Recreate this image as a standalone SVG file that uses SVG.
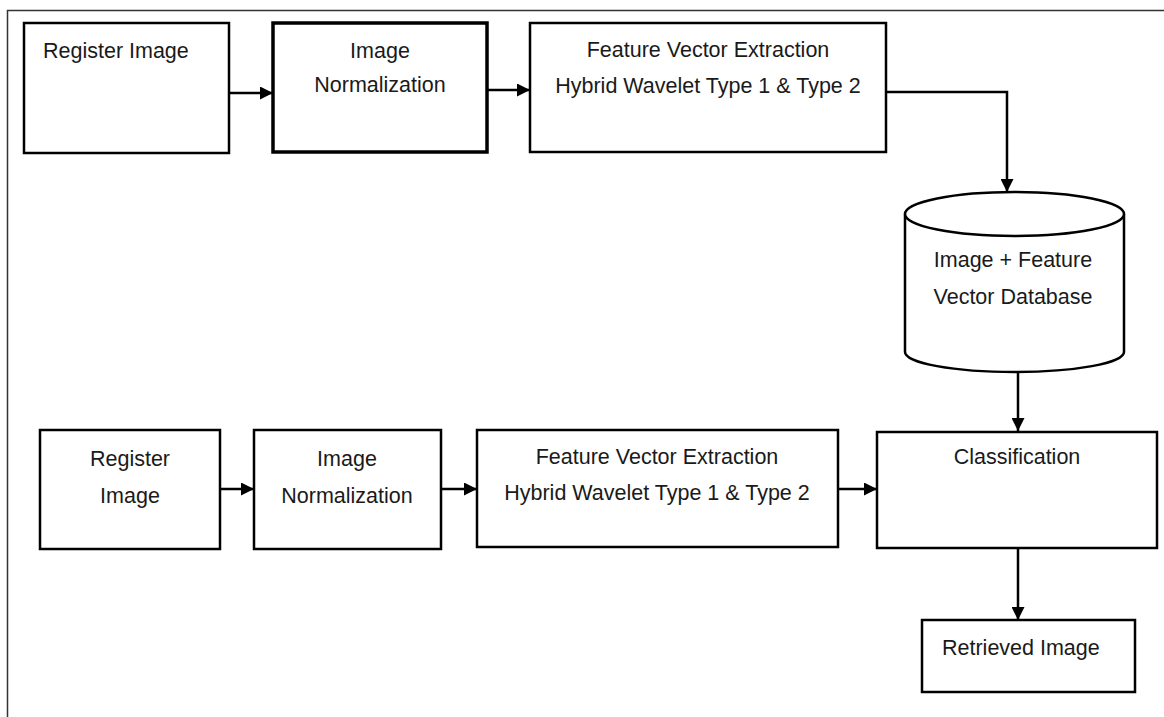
<svg xmlns="http://www.w3.org/2000/svg" width="1164" height="717" viewBox="0 0 1164 717">
<style>
.box{fill:#fff;stroke:#000;stroke-width:2.5}
.thick{stroke-width:3.5}
.t{font-family:"Liberation Sans",Arial,sans-serif;font-size:21.5px;fill:#1a1a1a}
.c{text-anchor:middle}
.edge{fill:none;stroke:#000;stroke-width:2.5}
</style>
<defs>
<marker id="ah" viewBox="0 0 13 13" refX="13" refY="6.5" markerWidth="13" markerHeight="13" markerUnits="userSpaceOnUse" orient="auto">
<path d="M0,0 L13,6.5 L0,13 Z" fill="#000"/>
</marker>
</defs>
<rect width="1164" height="717" fill="#fff"/>
<rect x="7.5" y="10.5" width="1300" height="800" fill="none" stroke="#333" stroke-width="1.5"/>

<g id="reg1">
<rect class="box" x="24" y="23" width="205" height="130"/>
<text class="t" x="43" y="58">Register Image</text>
</g>
<g id="norm1">
<rect class="box thick" x="273" y="23" width="214" height="129"/>
<text class="t c" x="380" y="58">Image</text>
<text class="t c" x="380" y="92">Normalization</text>
</g>
<g id="fve1">
<rect class="box" x="530" y="23" width="356" height="129"/>
<text class="t c" x="708" y="57">Feature Vector Extraction</text>
<text class="t c" x="708" y="93">Hybrid Wavelet Type 1 &amp; Type 2</text>
</g>
<g id="db">
<path class="box" d="M905,214 L905,352 A109.5,20 0 0 0 1124,352 L1124,214"/>
<ellipse class="box" cx="1014.5" cy="214" rx="109.5" ry="22"/>
<text class="t c" x="1013" y="267">Image + Feature</text>
<text class="t c" x="1013" y="304">Vector Database</text>
</g>
<g id="reg2">
<rect class="box" x="40" y="430" width="180" height="119"/>
<text class="t c" x="130" y="466">Register</text>
<text class="t c" x="130" y="503">Image</text>
</g>
<g id="norm2">
<rect class="box" x="254" y="430" width="187" height="119"/>
<text class="t c" x="347" y="466">Image</text>
<text class="t c" x="347" y="503">Normalization</text>
</g>
<g id="fve2">
<rect class="box" x="477" y="430" width="361" height="117"/>
<text class="t c" x="657" y="464">Feature Vector Extraction</text>
<text class="t c" x="657" y="500">Hybrid Wavelet Type 1 &amp; Type 2</text>
</g>
<g id="cls">
<rect class="box" x="877" y="432" width="280" height="116"/>
<text class="t c" x="1017" y="464">Classification</text>
</g>
<g id="ret">
<rect class="box" x="922" y="620" width="213" height="72"/>
<text class="t" x="942" y="655">Retrieved Image</text>
</g>

<g id="connectors">
<line class="edge" x1="229" y1="93" x2="273" y2="93" marker-end="url(#ah)"/>
<line class="edge" x1="487" y1="90" x2="530" y2="90" marker-end="url(#ah)"/>
<polyline class="edge" points="886,92 1007,92 1007,192" marker-end="url(#ah)"/>
<line class="edge" x1="1018" y1="372" x2="1018" y2="431" marker-end="url(#ah)"/>
<line class="edge" x1="220" y1="489" x2="254" y2="489" marker-end="url(#ah)"/>
<line class="edge" x1="441" y1="489" x2="477" y2="489" marker-end="url(#ah)"/>
<line class="edge" x1="838" y1="489" x2="877" y2="489" marker-end="url(#ah)"/>
<line class="edge" x1="1018" y1="548" x2="1018" y2="620" marker-end="url(#ah)"/>
</g>
</svg>
